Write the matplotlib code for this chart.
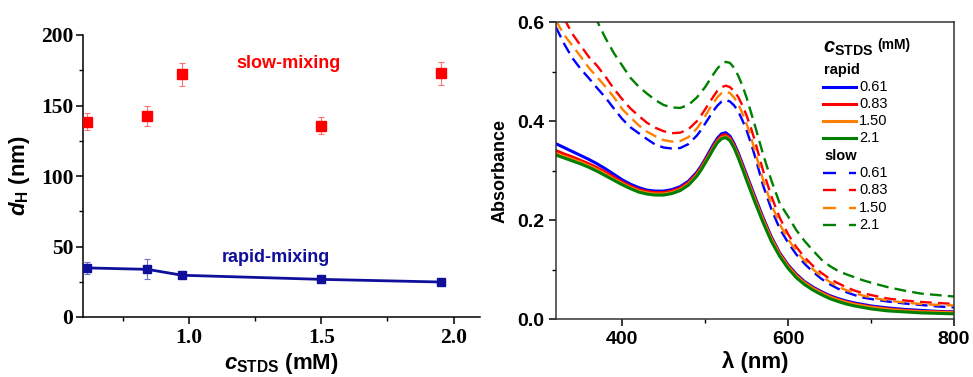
import matplotlib
matplotlib.use("Agg")
import matplotlib.pyplot as plt
from matplotlib.ticker import MultipleLocator, FixedLocator

plt.rcParams['font.family'] = ['Liberation Sans', 'DejaVu Sans']
plt.rcParams['mathtext.fontset'] = 'custom'
plt.rcParams['mathtext.it'] = 'Liberation Sans:italic:bold'
plt.rcParams['mathtext.bf'] = 'Liberation Sans:bold'
plt.rcParams['mathtext.rm'] = 'Liberation Sans:bold'

# ---------------- left panel data ----------------
c_slow = [0.617, 0.843, 0.975, 1.50, 1.954]
dH_slow = [138.5, 142.5, 172.0, 135.7, 172.8]
dH_slow_err = [6, 7, 8, 6, 8]
c_rapid = [0.617, 0.843, 0.975, 1.50, 1.954]
dH_rapid = [34.8, 33.8, 29.6, 26.7, 24.8]
dH_rapid_err = [4, 7, 1, 1, 1]

# ---------------- right panel data ----------------
wl = [320, 330, 340, 350, 360, 370, 380, 390, 400, 410, 420, 430, 440, 450, 460, 470, 480, 490,
      495, 500, 505, 510, 515, 520, 525, 530, 535, 540, 545, 550, 555, 560,
      570, 580, 590, 600, 610, 620, 630, 640, 650, 660, 670, 680, 690, 700,
      720, 740, 760, 780, 800]

rapid_061 = [.355, .347, .339, .331, .323, .314, .304, .293, .282, .273, .266, .261, .259, .259, .262, .268, .279, .297,
             .309, .323, .338, .353, .366, .375, .377, .370, .355, .336, .314, .292, .270, .248,
             .205, .166, .134, .110, .091, .076, .065, .056, .048, .042, .037, .033, .030, .027,
             .023, .020, .018, .016, .015]
rapid_083 = [.341, .334, .328, .321, .314, .306, .297, .287, .277, .269, .262, .258, .256, .256, .259, .265, .276, .294,
             .306, .320, .334, .349, .362, .371, .373, .366, .351, .332, .310, .288, .266, .244,
             .202, .163, .132, .108, .089, .074, .063, .054, .046, .040, .035, .031, .028, .025,
             .021, .018, .016, .015, .014]
rapid_150 = [.335, .329, .323, .317, .310, .302, .293, .283, .274, .266, .259, .255, .253, .253, .256, .262, .273, .291,
             .303, .317, .331, .346, .359, .367, .369, .363, .348, .329, .307, .285, .263, .241,
             .199, .161, .130, .106, .087, .073, .062, .053, .045, .039, .034, .030, .027, .024,
             .020, .017, .015, .014, .013]
rapid_21 = [.332, .326, .320, .314, .307, .299, .290, .281, .272, .264, .257, .253, .251, .251, .254, .260, .271, .289,
            .301, .315, .329, .344, .357, .365, .367, .361, .346, .326, .304, .281, .259, .237,
            .195, .157, .127, .103, .084, .070, .059, .050, .042, .036, .031, .027, .024, .021,
            .017, .015, .013, .012, .011]

slow_061 = [.591, .557, .528, .506, .487, .467, .448, .426, .405, .388, .376, .364, .353, .347, .345, .346, .354, .371,
            .382, .395, .408, .421, .432, .440, .443, .440, .432, .420, .402, .382, .357, .330,
            .270, .222, .183, .155, .131, .112, .096, .082, .071, .062, .055, .049, .044, .041,
            .036, .032, .029, .026, .024]
slow_083 = [.640, .608, .577, .553, .530, .512, .490, .466, .445, .426, .411, .397, .387, .380, .376, .377, .384, .400,
            .411, .424, .437, .450, .462, .469, .472, .469, .461, .449, .432, .412, .388, .361,
            .300, .248, .205, .172, .146, .125, .108, .094, .082, .073, .065, .058, .053, .049,
            .042, .038, .035, .033, .031]
slow_150 = [.604, .575, .553, .531, .508, .489, .470, .449, .425, .408, .392, .379, .370, .362, .359, .360, .368, .385,
            .397, .410, .424, .437, .449, .457, .460, .457, .448, .435, .416, .395, .370, .341,
            .281, .232, .192, .162, .138, .118, .101, .087, .076, .066, .059, .053, .048, .044,
            .038, .034, .031, .029, .028]
slow_21 = [.800, .755, .715, .675, .638, .602, .568, .538, .513, .488, .470, .456, .443, .433, .428, .427, .433, .448,
           .458, .469, .482, .495, .507, .516, .520, .518, .508, .492, .472, .448, .420, .392,
           .333, .280, .234, .208, .180, .158, .139, .121, .108, .098, .091, .085, .079, .074,
           .065, .058, .052, .049, .046]

conc_labels = ['0.61', '0.83', '1.50', '2.1']
curve_colors = ['#0000ff', '#ff0000', '#ff8000', '#008000']
rapid_curves = [rapid_061, rapid_083, rapid_150, rapid_21]
slow_curves = [slow_061, slow_083, slow_150, slow_21]

W, H = 973, 377
fig = plt.figure(figsize=(W / 100, H / 100), dpi=100)

# ================= left panel =================
ax1 = fig.add_axes([83 / W, 60 / H, 397 / W, 282 / H])
navy = '#0f0f9c'
ax1.errorbar(c_slow, dH_slow, yerr=dH_slow_err, fmt='s', color='#ff0000', ms=7,
             ecolor='#ff7070', elinewidth=0.8, capsize=2.5, capthick=0.8, zorder=3)
ax1.errorbar(c_rapid, dH_rapid, yerr=dH_rapid_err, fmt='s-', color=navy, ms=5.5, lw=2,
             ecolor='#7070d0', elinewidth=0.8, capsize=2.5, capthick=0.8, zorder=3)
ax1.set_xlim(0.6, 2.1)
ax1.set_ylim(0, 200)
ax1.spines['top'].set_visible(False)
ax1.spines['right'].set_visible(False)
for s in ['left', 'bottom']:
    ax1.spines[s].set_linewidth(1.1)
ax1.xaxis.set_major_locator(FixedLocator([1.0, 1.5, 2.0]))
ax1.xaxis.set_minor_locator(FixedLocator([0.75, 1.25, 1.75]))
ax1.yaxis.set_major_locator(MultipleLocator(50))
ax1.yaxis.set_minor_locator(MultipleLocator(25))
ax1.tick_params(which='major', direction='out', length=5, width=1.1)
ax1.tick_params(which='minor', direction='out', length=3, width=1.0)
ax1.set_xticklabels(['1.0', '1.5', '2.0'])
for lab in ax1.get_xticklabels() + ax1.get_yticklabels():
    lab.set_family('Liberation Serif')
    lab.set_weight('bold')
    lab.set_size(15.5)
ax1.tick_params(axis='x', pad=3)
ax1.tick_params(axis='y', pad=2)
ax1.set_xlabel(r'$c_{\mathrm{STDS}}$ (mM)', fontsize=16, fontweight='bold', labelpad=2)
ax1.set_ylabel(r'$d_{\mathrm{H}}$ (nm)', fontsize=16, fontweight='bold', labelpad=6)
ax1.text(1.376, 180, 'slow-mixing', color='#ff0000', fontsize=13, fontweight='bold',
         ha='center', va='center')
ax1.text(1.327, 42, 'rapid-mixing', color=navy, fontsize=13, fontweight='bold',
         ha='center', va='center')

# ================= right panel =================
ax2 = fig.add_axes([555.7 / W, 57.7 / H, 398.3 / W, 297 / H])
dash_data = (0, (5, 2.6))
for vals, col in zip(rapid_curves, curve_colors):
    ax2.plot(wl, vals, color=col, lw=2.2, solid_capstyle='round')
for vals, col in zip(slow_curves, curve_colors):
    ax2.plot(wl, vals, color=col, lw=1.7, linestyle=dash_data)
ax2.set_xlim(320, 800)
ax2.set_ylim(0, 0.6)
ax2.xaxis.set_major_locator(MultipleLocator(200))
ax2.xaxis.set_minor_locator(FixedLocator([500, 700]))
ax2.yaxis.set_major_locator(MultipleLocator(0.2))
ax2.yaxis.set_minor_locator(MultipleLocator(0.1))
ax2.tick_params(which='major', direction='out', length=5, width=1.1, labelsize=13)
ax2.tick_params(which='minor', direction='out', length=3, width=1.0)
for s in ax2.spines.values():
    s.set_linewidth(1.1)
    s.set_color('#333333')
ax2.set_xticks([400, 600, 800])
ax2.set_xticklabels(['400', '600', '800'], fontsize=14, fontweight='bold')
ax2.set_yticks([0.0, 0.2, 0.4, 0.6])
ax2.set_yticklabels(['0.0', '0.2', '0.4', '0.6'], fontsize=14, fontweight='bold')
ax2.set_xlabel('λ (nm)', fontsize=16, fontweight='bold', labelpad=2)
ax2.set_ylabel('Absorbance', fontsize=13, fontweight='bold', labelpad=6)

# legend (manual, in axes coordinates)
tr = ax2.transAxes
ax2.text(0.672, 0.913, r'$c_{\mathrm{STDS}}$', transform=tr, fontsize=14.5, fontweight='bold',
         ha='left', va='center')
ax2.text(0.808, 0.925, '(mM)', transform=tr, fontsize=10, fontweight='bold',
         ha='left', va='center')
ax2.text(0.674, 0.839, 'rapid', transform=tr, fontsize=10.5, fontweight='bold',
         ha='left', va='center')
ax2.text(0.674, 0.550, 'slow', transform=tr, fontsize=10.5, fontweight='bold',
         ha='left', va='center')
rapid_rows = [0.782, 0.725, 0.666, 0.609]
slow_rows = [0.492, 0.435, 0.376, 0.319]
for lab, col, y in zip(conc_labels, curve_colors, rapid_rows):
    ax2.plot([0.672, 0.755], [y, y], transform=tr, color=col, lw=2.2, clip_on=False)
    ax2.text(0.762, y, lab, transform=tr, fontsize=10.5, ha='left', va='center')
for lab, col, y in zip(conc_labels, curve_colors, slow_rows):
    ax2.plot([0.672, 0.755], [y, y], transform=tr, color=col, lw=1.7,
             linestyle=(0, (5.5, 5.5)), clip_on=False)
    ax2.text(0.762, y, lab, transform=tr, fontsize=10.5, ha='left', va='center')

fig.savefig('out.png', dpi=100)
